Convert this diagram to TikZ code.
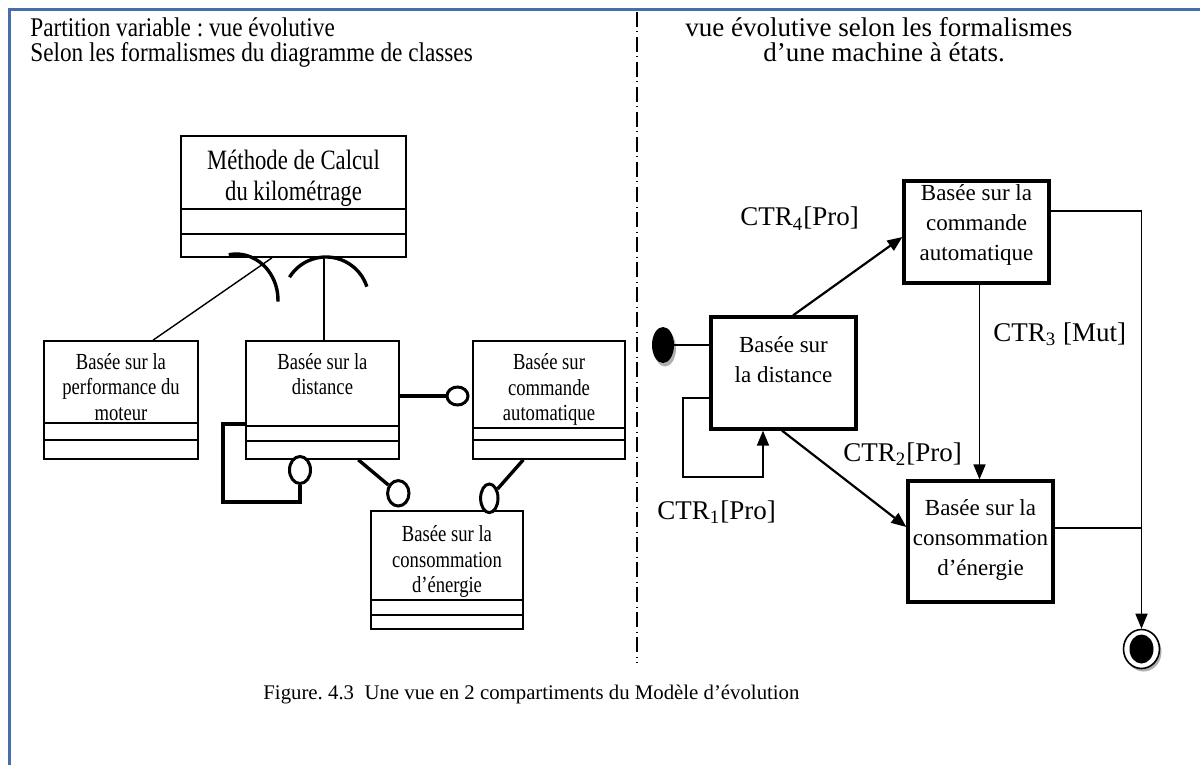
\documentclass[tikz,border=0pt]{standalone}
\usepackage{fontspec}
\setmainfont{Liberation Serif}
\newfontfamily\narrowserif{Liberation Serif}[FakeStretch=0.81]
\newfontfamily\headserif{Liberation Serif}[FakeStretch=0.86]
\usetikzlibrary{arrows.meta,shapes.geometric}
\definecolor{framebl}{RGB}{70,110,170}
\definecolor{shadowgray}{RGB}{175,175,175}
\frenchspacing

\begin{document}
\begin{tikzpicture}[x=0.5pt,y=-0.5pt,
  classbox/.style={draw,line width=0.8pt,inner sep=0pt},
  classtxt/.style={font=\narrowserif\fontsize{11.5}{12.8}\selectfont,align=center,inner sep=0pt},
  classtitle/.style={font=\narrowserif\fontsize{14}{15.5}\selectfont,align=center,inner sep=0pt},
  compart/.style={line width=0.8pt},
  statebox/.style={draw,line width=1.6pt,inner sep=0pt},
  statetxt/.style={font=\fontsize{11.5}{15}\selectfont,align=center,inner sep=0pt},
  hdrleft/.style={font=\headserif\fontsize{13.5}{13}\selectfont,inner sep=0pt,anchor=base west},
  hdr/.style={font=\fontsize{13.5}{13}\selectfont,inner sep=0pt,anchor=base west},
  lbl/.style={font=\fontsize{13.5}{15}\selectfont,inner sep=0pt,anchor=base west},
  captxt/.style={font=\fontsize{10.4}{12}\selectfont,inner sep=0pt,anchor=base west},
  thinlink/.style={line width=0.7pt},
  thicklink/.style={line width=1.7pt},
  socket/.style={line width=1.7pt},
  ball/.style={ellipse,draw,fill=white,line width=1.5pt,inner sep=0pt},
  tip/.style={-{Triangle[length=7.5pt,width=6pt]}},
  divider/.style={line width=0.6pt,dash pattern=on 7.5pt off 2.25pt on 0.5pt off 2.25pt}
]
\useasboundingbox (0,0) rectangle (1200,765);

% outer frame (open to the right and bottom)
\draw[framebl,line width=1.2pt] (9.5,765) -- (9.5,9.5) -- (1200,9.5);

% dash-dot separator between the two views
\coordinate (divtop) at (637,12);
\coordinate (divbot) at (637,663);
\draw[divider] (divtop) -- (divbot);

% headings
\node[hdrleft] (hdrL1) at (30,37) {Partition variable : vue évolutive};
\node[hdrleft] (hdrL2) at (30,62) {Selon les formalismes du diagramme de classes};
\node[hdr] (hdrR1) at (685,37) {vue évolutive selon les formalismes};
\node[hdr] (hdrR2) at (763,62) {d’une machine à états.};

% ---------- class diagram view ----------
\node[classbox,minimum width=112.5pt,minimum height=60.5pt] (M) at (293.5,196.5) {};
\draw[compart] ([yshift=-37pt]M.north west) -- ([yshift=-37pt]M.north east);
\draw[compart] ([yshift=-49.5pt]M.north west) -- ([yshift=-49.5pt]M.north east);
\node[classtitle] (tM) at (293.5,178.3) {Méthode de Calcul\\du kilométrage};

\node[classbox,minimum width=77pt,minimum height=59pt] (A) at (121,400) {};
\draw[compart] ([yshift=-41.5pt]A.north west) -- ([yshift=-41.5pt]A.north east);
\draw[compart] ([yshift=-50pt]A.north west) -- ([yshift=-50pt]A.north east);
\node[classtxt] (tA) at (121,387) {Basée sur la\\performance du\\moteur};

\node[classbox,minimum width=76.5pt,minimum height=59pt] (D) at (322.5,400) {};
\draw[compart] ([yshift=-43pt]D.north west) -- ([yshift=-43pt]D.north east);
\draw[compart] ([yshift=-50.5pt]D.north west) -- ([yshift=-50.5pt]D.north east);
\node[classtxt] (tD) at (322.5,374.2) {Basée sur la\\distance};

\node[classbox,minimum width=76pt,minimum height=59pt] (C) at (549,400) {};
\draw[compart] ([yshift=-44pt]C.north west) -- ([yshift=-44pt]C.north east);
\draw[compart] ([yshift=-50pt]C.north west) -- ([yshift=-50pt]C.north east);
\node[classtxt] (tC) at (549,389.5) {Basée sur\\commande\\automatique};

\node[classbox,minimum width=76pt,minimum height=59pt] (E) at (447,570) {};
\draw[compart] ([yshift=-45pt]E.north west) -- ([yshift=-45pt]E.north east);
\draw[compart] ([yshift=-52.5pt]E.north west) -- ([yshift=-52.5pt]E.north east);
\node[classtxt] (tE) at (447,561.5) {Basée sur la\\consommation\\d’énergie};

% links to the calculation class, with their sockets
\draw[thinlink] ([xshift=16pt]A.north) -- ([xshift=-10.75pt]M.south);
\coordinate (dtop) at ([xshift=0.75pt]D.north);
\draw[thinlink] (dtop) -- (dtop |- M.south);
\draw[socket] (228.7,254.7) arc[start angle=-100,end angle=2,x radius=42,y radius=46];
\draw[socket] (289.5,277.2) arc[start angle=-148,end angle=-18,x radius=43,y radius=43];

% provided interfaces (lollipops)
\node[ball,minimum width=10.5pt,minimum height=9pt] (ballC) at (457.5,396) {};
\draw[thicklink] ([yshift=2pt]D.east) -- (ballC);

\node[ball,minimum width=10.5pt,minimum height=13.5pt] (ballL) at (300,470) {};
\coordinate (loopL) at (223,502);
\draw[thicklink] ([yshift=-12pt]D.west) -| (loopL) -| (ballL.south);

\node[ball,minimum width=10.7pt,minimum height=12.7pt] (ballE1) at (398.3,493.3) {};
\draw[thicklink] ([xshift=17.9pt]D.south) -- (ballE1);

\node[ball,minimum width=8.7pt,minimum height=14.3pt] (ballE2) at (489.3,498.3) {};
\draw[thicklink] ([xshift=-12.85pt]C.south) -- (ballE2);

% ---------- state machine view ----------
\node[statebox,minimum width=72.5pt,minimum height=56pt] (D2) at (783.5,373) {};
\node[statetxt] (tD2) at (783.5,359.5) {Basée sur\\la distance};

\node[statebox,minimum width=72.5pt,minimum height=51pt] (S4) at (976.5,232) {};
\node[statetxt] (tS4) at (976.5,225) {Basée sur la\\commande\\automatique};

\node[statebox,minimum width=72.5pt,minimum height=60.5pt] (SE) at (980.5,541.5) {};
\node[statetxt] (tSE) at (980.5,540) {Basée sur la\\consommation\\d’énergie};

% initial state
\node[ellipse,fill=shadowgray,inner sep=0pt,minimum width=11pt,minimum height=18pt] (initsh) at (665,348.5) {};
\node[ellipse,fill=black,inner sep=0pt,minimum width=11pt,minimum height=18pt] (init) at (663,345) {};
\draw[thinlink] (init) -- (init -| D2.west);

% final state
\node[ellipse,fill=shadowgray,inner sep=0pt,minimum width=18pt,minimum height=19.5pt] (finsh) at (1143.5,652) {};
\node[ellipse,draw,fill=white,line width=0.8pt,inner sep=0pt,minimum width=18pt,minimum height=19.5pt] (fin) at (1141.5,649) {};
\node[ellipse,fill=black,inner sep=0pt,minimum width=12pt,minimum height=14.5pt] (fincore) at (1141.5,649) {};

% transitions
\draw[line width=1.1pt,tip] ([xshift=4.75pt]D2.north) -- ([yshift=-2.5pt]S4.west);
\draw[line width=0.8pt,tip] ([xshift=1.5pt]S4.south) -- ([xshift=-0.5pt]SE.north);
\draw[line width=1.1pt,tip] ([xshift=-0.75pt]D2.south) -- ([yshift=7.25pt]SE.west);
\coordinate (loopR) at (683,477);
\draw[line width=0.8pt,tip] ([yshift=-12.5pt]D2.west) -| (loopR) -| ([xshift=-10.25pt]D2.south);

\coordinate (s4r) at ([yshift=10.5pt]S4.east);
\draw[line width=0.8pt,tip] (s4r) -| (fin.north);
\coordinate (ser) at ([yshift=6.75pt]SE.east);
\draw[line width=0.8pt] (ser) -- (ser -| fin.north);

% transition labels
\node[lbl] (l4) at (740,226) {CTR\textsubscript{4}[Pro]};
\node[lbl] (l3) at (993,341) {CTR\textsubscript{3} [Mut]};
\node[lbl] (l2) at (843,461) {CTR\textsubscript{2}[Pro]};
\node[lbl] (l1) at (657,519) {CTR\textsubscript{1}[Pro]};

% caption
\node[captxt] (cap) at (263,699) {Figure. 4.3\ \ Une vue en 2 compartiments du Modèle d’évolution};

\end{tikzpicture}
\end{document}
